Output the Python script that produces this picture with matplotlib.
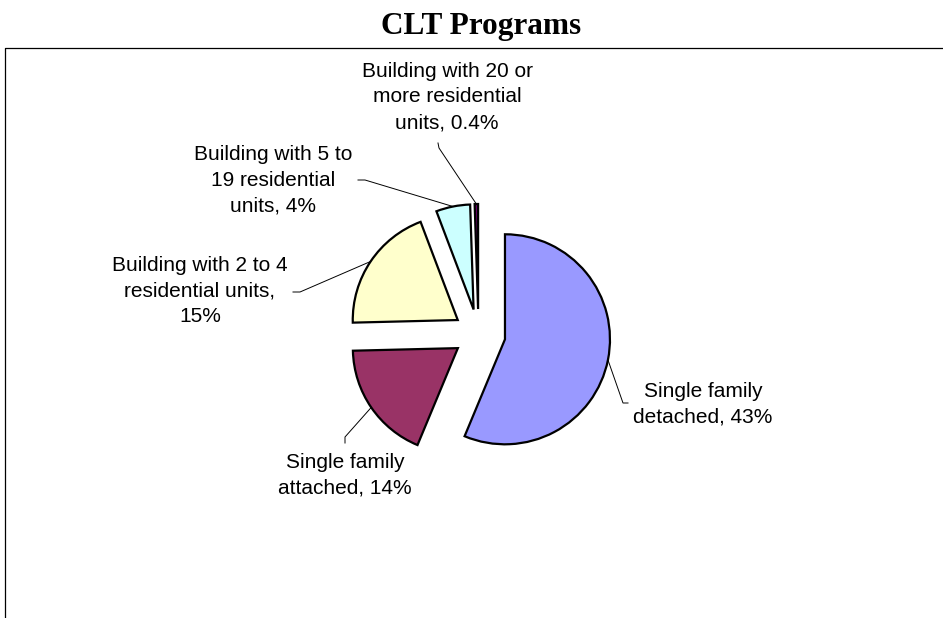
import numpy as np
import matplotlib.pyplot as plt

# data
categories = ['Single family\ndetached, 43%',
              'Single family\nattached, 14%',
              'Building with 2 to 4\nresidential units,\n15%',
              'Building with 5 to\n19 residential\nunits, 4%',
              'Building with 20 or\nmore residential\nunits, 0.4%']
values = [43, 14, 15, 4, 0.4]
colors = ['#9999FF', '#993366', '#FFFFCC', '#CCFFFF', '#660066']

W, H = 943, 618
Y = lambda y: H - y  # image y -> data y

fig = plt.figure(figsize=(W / 100, H / 100), dpi=100)
ax = fig.add_axes([0, 0, 1, 1])

# explode is in data units (pixels here)
wedges, _ = ax.pie(values, colors=colors, startangle=90, counterclock=False,
                   radius=105, center=(478.5, Y(334)), explode=[27, 25, 25, 25, 25],
                   wedgeprops=dict(edgecolor='black', linewidth=1.6),
                   normalize=True)

ax.set_xlim(0, W)
ax.set_ylim(0, H)
ax.set_aspect('equal', adjustable='box')
ax.axis('off')

# chart area frame (right/bottom edges are cut off in the original)
ax.plot([4.5, 4.5, W + 5], [-5, Y(47.5), Y(47.5)], color='black', lw=0.9)

ax.text(481, Y(34), 'CLT Programs', ha='center', va='baseline',
        family='Liberation Serif', weight='bold', fontsize=22.5)

# label text centres and leader line elbows
label_xy = [(703, 404), (345, 475), (200, 291), (273, 180), (447, 97)]
elbows = [[(628, 403), (623, 403)],
          [(345, 443), (345, 437)],
          [(293, 292), (300, 292)],
          [(358, 180), (365, 180)],
          [(438, 143), (439, 148)]]

for w, txt, (tx, ty), elb in zip(wedges, categories, label_xy, elbows):
    ax.text(tx, Y(ty), txt, ha='center', va='center', multialignment='center',
            family='Liberation Sans', fontsize=15, linespacing=1.45)
    mid = np.deg2rad((w.theta1 + w.theta2) / 2)
    cx, cy = w.center
    px = cx + w.r * np.cos(mid)
    py = cy + w.r * np.sin(mid)
    xs = [e[0] for e in elb] + [px]
    ys = [Y(e[1]) for e in elb] + [py]
    ax.plot(xs, ys, color='black', lw=0.7)

fig.savefig('out.png', dpi=100)
